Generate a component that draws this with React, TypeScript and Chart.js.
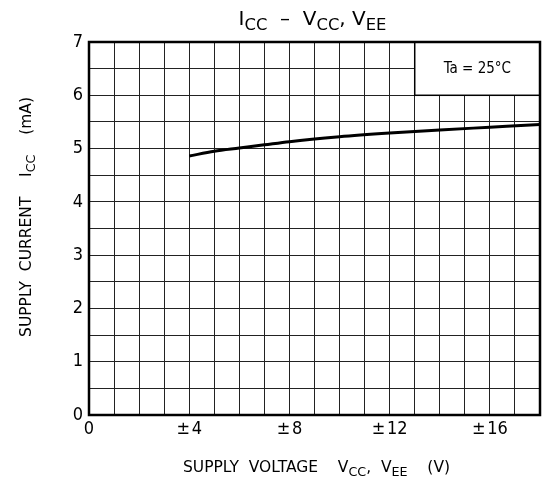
import React, { useEffect, useRef } from "react";
import { Chart, registerables } from "chart.js";
Chart.register(...registerables);

const voltages = [4, 5, 6, 7, 8, 10, 12, 14, 16, 18];
const currents = [4.86, 4.95, 5.01, 5.07, 5.13, 5.22, 5.29, 5.35, 5.4, 5.45];
const xLabelValues = [0, 4, 8, 12, 16];
const xLabelTexts = ["0", "±\u200A4", "±\u200A8", "±\u200A12", "±\u200A16"];
const yLabelValues = [0, 1, 2, 3, 4, 5, 6, 7];
const ambientText = "Ta = 25°C";

const FONT = "'DejaVu Sans', sans-serif";
const CFONT = "'DejaVu Sans Condensed', 'DejaVu Sans', sans-serif";

type Seg = { t: string; sub?: boolean };

function segWidth(ctx: CanvasRenderingContext2D, segs: Seg[], size: number) {
  let w = 0;
  for (const s of segs) {
    ctx.font = `${s.sub ? size * 0.82 : size}px ${FONT}`;
    w += ctx.measureText(s.t).width;
  }
  return w;
}

function drawSegs(
  ctx: CanvasRenderingContext2D,
  segs: Seg[],
  cx: number,
  cy: number,
  size: number,
  rotate = false
) {
  ctx.save();
  ctx.translate(cx, cy);
  if (rotate) ctx.rotate(-Math.PI / 2);
  const w = segWidth(ctx, segs, size);
  let x = -w / 2;
  ctx.fillStyle = "#000";
  ctx.textBaseline = "middle";
  ctx.textAlign = "left";
  for (const s of segs) {
    ctx.font = `${s.sub ? size * 0.82 : size}px ${FONT}`;
    ctx.fillText(s.t, x, s.sub ? size * 0.3 : 0);
    x += ctx.measureText(s.t).width;
  }
  ctx.restore();
}

const decorPlugin = {
  id: "decor",
  afterDraw(chart: any) {
    const ctx: CanvasRenderingContext2D = chart.ctx;
    const { left, right, top, bottom } = chart.chartArea;
    const xs = chart.scales.x;
    const ys = chart.scales.y;
    // ambient box
    const bx1 = xs.getPixelForValue(13);
    const bx2 = xs.getPixelForValue(18);
    const by1 = ys.getPixelForValue(7);
    const by2 = ys.getPixelForValue(6);
    ctx.save();
    ctx.fillStyle = "#fff";
    ctx.fillRect(bx1, by1, bx2 - bx1, by2 - by1);
    ctx.strokeStyle = "#000";
    ctx.lineWidth = 1.5;
    ctx.strokeRect(bx1, by1, bx2 - bx1, by2 - by1);
    ctx.fillStyle = "#000";
    ctx.font = `15px ${CFONT}`;
    ctx.textAlign = "center";
    ctx.textBaseline = "middle";
    ctx.fillText(ambientText, (bx1 + bx2) / 2, (by1 + by2) / 2);
    // border
    ctx.lineWidth = 2.5;
    ctx.strokeRect(left, top, right - left, bottom - top);
    ctx.restore();

    // title
    drawSegs(
      ctx,
      [
        { t: "I" },
        { t: "CC", sub: true },
        { t: "  –  V" },
        { t: "CC", sub: true },
        { t: ", V" },
        { t: "EE", sub: true },
      ],
      (left + right) / 2 - 2,
      20,
      20
    );
    // x title
    drawSegs(
      ctx,
      [
        { t: "SUPPLY  VOLTAGE    V" },
        { t: "CC", sub: true },
        { t: ",  V" },
        { t: "EE", sub: true },
        { t: "    (V)" },
      ],
      (left + right) / 2 + 2,
      468,
      15.5
    );
    // y title
    drawSegs(
      ctx,
      [
        { t: "SUPPLY  CURRENT    I" },
        { t: "CC", sub: true },
        { t: "    (mA)" },
      ],
      27,
      217,
      15.5,
      true
    );
  },
};

export default function App() {
  const ref = useRef<HTMLCanvasElement | null>(null);
  useEffect(() => {
    if (!ref.current) return;
    const chart = new Chart(ref.current, {
      type: "line",
      data: {
        datasets: [
          {
            data: voltages.map((v, i) => ({ x: v, y: currents[i] })),
            borderColor: "#000",
            borderWidth: 3,
            pointRadius: 0,
            cubicInterpolationMode: "monotone",
            fill: false,
          },
        ],
      },
      options: {
        animation: false,
        responsive: false,
        maintainAspectRatio: false,
        layout: { padding: { top: 42, right: 2, left: 0, bottom: 0 } },
        plugins: { legend: { display: false }, tooltip: { enabled: false }, title: { display: false } },
        scales: {
          x: {
            type: "linear",
            min: 0,
            max: 18,
            afterFit: (s: any) => {
              s.height = 75;
              s.paddingRight = 0;
              s.paddingLeft = 0;
            },
            afterBuildTicks: (s: any) => {
              const t = [];
              for (let v = 0; v <= 18; v++) t.push({ value: v });
              s.ticks = t;
            },
            ticks: {
              autoSkip: false,
              maxRotation: 0,
              padding: 4,
              color: "#000",
              font: { size: 18, family: CFONT },
              callback: (v: any) => {
                const i = xLabelValues.indexOf(Number(v));
                return i >= 0 ? xLabelTexts[i] : "";
              },
            },
            grid: { color: "#222", lineWidth: 1, drawTicks: false },
            border: { display: false },
          },
          y: {
            type: "linear",
            min: 0,
            max: 7,
            afterFit: (s: any) => {
              s.width = 89;
              s.paddingTop = 0;
              s.paddingBottom = 0;
            },
            afterBuildTicks: (s: any) => {
              const t = [];
              for (let v = 0; v <= 14; v++) t.push({ value: v / 2 });
              s.ticks = t;
            },
            ticks: {
              autoSkip: false,
              padding: 6,
              color: "#000",
              font: { size: 18, family: CFONT },
              callback: (v: any) => (yLabelValues.includes(Number(v)) ? String(v) : ""),
            },
            grid: { color: "#222", lineWidth: 1, drawTicks: false },
            border: { display: false },
          },
        },
      },
      plugins: [decorPlugin],
    } as any);
    return () => chart.destroy();
  }, []);
  return (
    <div style={{ position: "fixed", left: 0, top: 0, width: 542, height: 490, background: "#fff" }}>
      <canvas ref={ref} width={542} height={490} style={{ width: 542, height: 490 }} />
    </div>
  );
}
